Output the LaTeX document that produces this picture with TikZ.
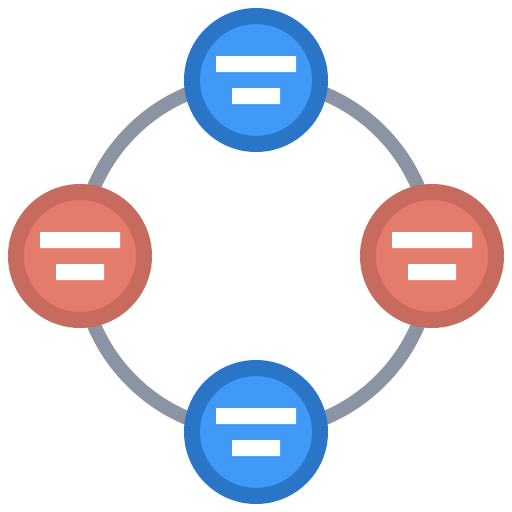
\documentclass[tikz,border=0pt]{standalone}
\usepackage{tikz}
\usetikzlibrary{calc}
\definecolor{bluedark}{HTML}{2B75C9}
\definecolor{bluelight}{HTML}{3E9AF5}
\definecolor{reddark}{HTML}{C76B5F}
\definecolor{redlight}{HTML}{E47C6D}
\definecolor{ringgray}{HTML}{8A94A2}
\tikzset{
  peer/.style={circle,minimum size=128pt,inner sep=0pt,line width=16pt},
  bluepeer/.style={peer,draw=bluedark,fill=bluelight},
  redpeer/.style={peer,draw=reddark,fill=redlight},
  ring/.style={draw=ringgray,line width=14pt}
}
\begin{document}
\begin{tikzpicture}[x=1pt,y=-1pt]
\useasboundingbox (0,0) rectangle (512,512);
\coordinate (top) at (256,80);
\coordinate (right) at (432,256);
\coordinate (bottom) at (256,432);
\coordinate (left) at (80,256);
% ring behind the peers
\draw[ring](top)to[bend left=45](right)
(right)to[bend left=45](bottom)
(bottom)to[bend left=45](left)
(left)to[bend left=45](top);
\node[bluepeer](ntop)at(top){};
\node[bluepeer](nbottom)at(bottom){};
\node[redpeer](nleft)at(left){};
\node[redpeer](nright)at(right){};
\foreach \n in {ntop,nbottom,nleft,nright}{
\fill[white]($(\n)+(-40,-24)$)rectangle($(\n)+(40,-8)$)
($(\n)+(-24,8)$)rectangle($(\n)+(24,24)$);
}
\end{tikzpicture}
\end{document}
